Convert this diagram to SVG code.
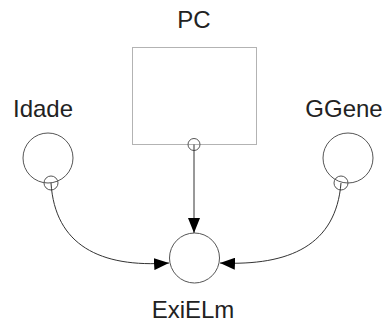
<svg xmlns="http://www.w3.org/2000/svg" width="386" height="324" viewBox="0 0 386 324">
<style>
.lbl{font-family:"Liberation Sans",Arial,sans-serif;font-size:24px;fill:#222;text-anchor:middle}
.big{fill:#fff;stroke:#555;stroke-width:1}
.small{fill:none;stroke:#555;stroke-width:1}
.box{fill:#fff;stroke:#666;stroke-width:1;stroke-dasharray:1 1}
.con{fill:none;stroke:#333;stroke-width:1}
</style>
<defs>
<marker id="arr" viewBox="0 0 15 12" refX="15" refY="6" markerWidth="15" markerHeight="12" markerUnits="userSpaceOnUse" orient="auto">
<path d="M0,0 L15,6 L0,12 Z" fill="#000"/>
</marker>
</defs>
<rect width="386" height="324" fill="#fff"/>
<g id="PC">
<rect class="box" x="132.5" y="47.5" width="124" height="97"/>
<text class="lbl" x="194" y="28">PC</text>
</g>
<g id="Idade">
<circle class="big" cx="48" cy="158" r="25"/>
<text class="lbl" x="43" y="117">Idade</text>
</g>
<g id="GGene">
<circle class="big" cx="348" cy="158" r="25"/>
<text class="lbl" x="344" y="117">GGene</text>
</g>
<g id="ExiELm">
<circle class="big" cx="194.5" cy="258" r="25"/>
<text class="lbl" x="193" y="318">ExiELm</text>
</g>
<g id="connectors">
<circle class="small" cx="194" cy="144.5" r="6"/>
<circle class="small" cx="51" cy="183" r="7"/>
<circle class="small" cx="341" cy="183" r="7"/>
<path class="con" d="M194,144.5 L194,233" marker-end="url(#arr)"/>
<path class="con" d="M51,183 C55,245 100,268 169,263" marker-end="url(#arr)"/>
<path class="con" d="M341,183 C336,245 290,266 220,263" marker-end="url(#arr)"/>
</g>
</svg>
